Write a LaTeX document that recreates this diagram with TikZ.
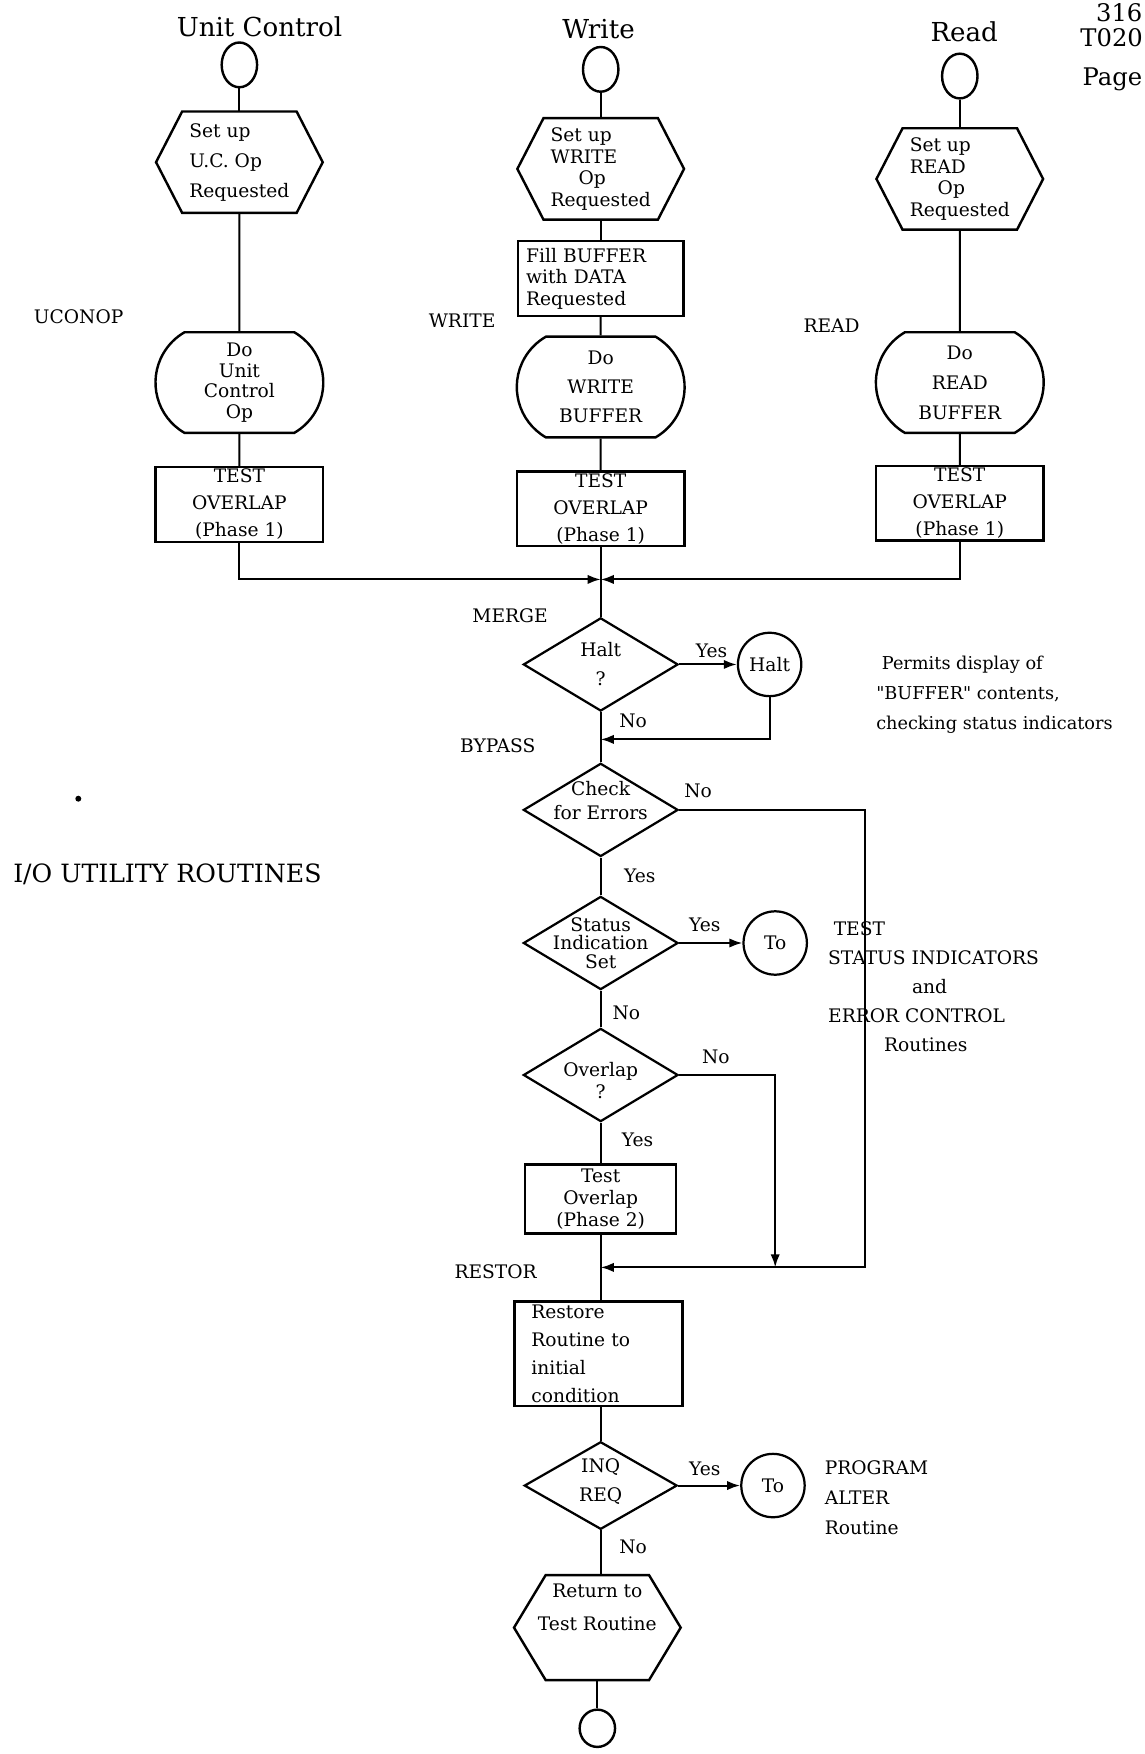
\documentclass[tikz,border=0pt]{standalone}
\usepackage{fontspec}
\setmainfont{DejaVu Serif}
\usepackage{tikz}
\usetikzlibrary{shapes, arrows.meta, positioning, calc}

\begin{document}
\begin{tikzpicture}[x=0.6pt, y=-0.6pt,
  flow/.style={line width=1.1pt},
  arr/.style={line width=1.1pt, -{Latex[length=7pt, width=5pt]}},
  term/.style={draw, ellipse, line width=1.3pt, minimum width=19pt, minimum height=24pt, inner sep=0pt},
  hexbox/.style={minimum width=89pt, minimum height=54pt, inner sep=0pt, align=left},
  procbox/.style={draw, line width=1.3pt, minimum width=90pt, minimum height=40pt, inner sep=0pt, align=center, font=\fontsize{10}{14.5}\selectfont},
  dobox/.style={draw, rounded rectangle, rounded rectangle arc length=120, line width=1.3pt, minimum width=90pt, minimum height=54pt, inner sep=0pt, align=center},
  decision/.style={draw, diamond, line width=1.2pt, minimum width=83pt, minimum height=50pt, inner sep=0pt},
  offpage/.style={draw, circle, line width=1.2pt, minimum size=34pt, inner sep=0pt, font=\fontsize{10}{13}\selectfont},
  tag/.style={font=\fontsize{10}{13}\selectfont, inner sep=0pt},
  answer/.style={font=\fontsize{10}{13}\selectfont, inner sep=0pt},
  heading/.style={font=\fontsize{14}{17}\selectfont},
]
\useasboundingbox (0,0) rectangle (1023,1568);

% page reference
\node[anchor=west, font=\fontsize{13}{16}\selectfont] (pgref) at (974,11) {316};
\node[anchor=west, font=\fontsize{13}{16}\selectfont] (pgser) at (960,34) {T020};
\node[anchor=west, font=\fontsize{13}{16}\selectfont] (pgword) at (962,71) {Page};

% Unit Control
\node[heading] (uctitle) at (232,24) {Unit Control};
\node[term] (ucstart) at (214,58) {};
\node[hexbox, font=\fontsize{10}{16}\selectfont] (ucset) at (214,145) {Set up\\U.C. Op\\Requested};
\node[tag, anchor=west] (uclbl) at (30,283) {UCONOP};
\node[dobox, font=\fontsize{10}{11}\selectfont] (ucdo) at (214,342) {Do\\Unit\\Control\\Op};
\node[procbox] (ucovl) at (214,451) {TEST\\OVERLAP\\(Phase 1)};

% Write
\node[heading] (wrtitle) at (535,26) {Write};
\node[term] (wrstart) at (537,62) {};
\node[hexbox, font=\fontsize{10}{11.5}\selectfont] (wrset) at (537,151) {Set up\\WRITE\\\hspace*{1.5em}Op\\Requested};
\node[procbox, minimum width=89pt, text width=80pt, align=left, font=\fontsize{10}{11.5}\selectfont] (wrfill) at (537,249) {Fill BUFFER\\with DATA\\Requested};
\node[tag, anchor=west] (wrlbl) at (383,287) {WRITE};
\node[dobox, font=\fontsize{10}{15.5}\selectfont] (wrdo) at (537,346) {Do\\WRITE\\BUFFER};
\node[procbox] (wrovl) at (537,455) {TEST\\OVERLAP\\(Phase 1)};

% Read
\node[heading] (rdtitle) at (862,28) {Read};
\node[term] (rdstart) at (858,68) {};
\node[hexbox, font=\fontsize{10}{11.5}\selectfont] (rdset) at (858,160) {Set up\\READ\\\hspace*{1.5em}Op\\Requested};
\node[tag, anchor=west] (rdlbl) at (718,291) {READ};
\node[dobox, font=\fontsize{10}{16}\selectfont] (rddo) at (858,342) {Do\\READ\\BUFFER};
\node[procbox] (rdovl) at (858,450) {TEST\\OVERLAP\\(Phase 1)};

\foreach \h in {ucset, wrset, rdset}
  \draw[line width=1.3pt] ([xshift=14pt]\h.north west) -- ([xshift=-14pt]\h.north east) -- (\h.east)
    -- ([xshift=-14pt]\h.south east) -- ([xshift=14pt]\h.south west) -- (\h.west) -- cycle;

\draw[flow] (ucstart) -- (ucset);
\draw[flow] (ucset) -- (ucdo);
\draw[flow] (ucdo) -- (ucovl);
\draw[flow] (wrstart) -- (wrset);
\draw[flow] (wrset) -- (wrfill);
\draw[flow] (wrfill) -- (wrdo);
\draw[flow] (wrdo) -- (wrovl);
\draw[flow] (rdstart) -- (rdset);
\draw[flow] (rdset) -- (rddo);
\draw[flow] (rddo) -- (rdovl);

% merge
\coordinate (merge) at (537,518);
\draw[arr] (ucovl) |- (merge);
\draw[arr] (rdovl) |- (merge);
\draw[flow] (wrovl) -- (merge);
\node[tag, anchor=west] (mergelbl) at (422,550) {MERGE};

\node[decision, label={[align=center, font=\fontsize{10}{15.5}\selectfont]center:Halt\\?}] (halt) at (537,594) {};
\draw[flow] (merge) -- (halt);
\node[offpage] (haltc) at (688,594) {Halt};
\draw[arr] (halt) -- (haltc);
\node[answer] (yes1) at (636,582) {Yes};
\coordinate (bypass) at (537,661);
\draw[arr] (haltc) |- (bypass);
\node[answer] (no1) at (566,644) {No};
\node[tag, anchor=west] (bypasslbl) at (411,667) {BYPASS};
\node[anchor=west, align=left, inner sep=0pt, font=\fontsize{9.5}{16}\selectfont] (haltnote) at (783,621) {\hspace*{3pt}Permits display of\\\textquotedbl BUFFER\textquotedbl{} contents,\\checking status indicators};

% error checks
\node[decision, label={[align=center, yshift=5pt, font=\fontsize{10}{12.5}\selectfont]center:Check\\for Errors}] (check) at (537,724) {};
\draw[flow] (halt) -- (check);
\coordinate (errline) at (773,1133);
\coordinate (restor) at (537,1133);
\draw[arr] (check) -| (errline) -- (restor);
\node[answer] (no2) at (624,707) {No};
\node[answer] (yes2) at (572,783) {Yes};

\node[decision, label={[align=center, font=\fontsize{10}{10}\selectfont]center:Status\\Indication\\Set}] (status) at (537,843) {};
\draw[flow] (check) -- (status);
\node[offpage] (tostat) at (693,843) {To};
\draw[arr] (status) -- (tostat);
\node[answer] (yes3) at (630,827) {Yes};
\node[answer] (no3) at (560,905) {No};
\node[anchor=west, align=left, inner sep=0pt, font=\fontsize{10}{15.6}\selectfont] (errnote) at (740,882) {\hspace*{3pt}TEST\\STATUS INDICATORS\\\hspace*{45pt}and\\ERROR CONTROL\\\hspace*{30pt}Routines};

\node[decision, label={[align=center, yshift=-3pt, font=\fontsize{10}{11.5}\selectfont]center:Overlap\\?}] (ovl) at (537,961) {};
\draw[flow] (status) -- (ovl);
\coordinate (ovljoin) at (693,1133);
\draw[arr] (ovl) -| (ovljoin);
\node[answer] (no4) at (640,945) {No};
\node[answer] (yes4) at (570,1019) {Yes};
\node[procbox, minimum width=81pt, minimum height=37pt, font=\fontsize{10}{12}\selectfont] (ovl2) at (537,1072) {Test\\Overlap\\(Phase 2)};
\draw[flow] (ovl) -- (ovl2);

% restore
\node[tag, anchor=west] (restorlbl) at (406,1137) {RESTOR};
\node[procbox, minimum height=56pt, text width=72pt, align=left, font=\fontsize{10}{15}\selectfont] (restore) at (535,1210) {Restore\\Routine to\\initial\\condition};
\draw[flow] (ovl2) -- (restore.north -| ovl2);

\node[decision, minimum width=82pt, minimum height=47pt, label={[align=center, yshift=2pt, font=\fontsize{10}{15.5}\selectfont]center:INQ\\REQ}] (inq) at (537,1328) {};
\draw[flow] (restore.south -| inq) -- (inq);
\node[offpage] (toalter) at (691,1328) {To};
\draw[arr] (inq) -- (toalter);
\node[answer] (yes5) at (630,1313) {Yes};
\node[answer] (no5) at (566,1383) {No};
\node[anchor=west, align=left, inner sep=0pt, font=\fontsize{10}{16}\selectfont] (alterlbl) at (737,1339) {PROGRAM\\ALTER\\Routine};

\node[hexbox, minimum width=89pt, minimum height=56pt, label={[align=center, yshift=11pt, font=\fontsize{10}{17.5}\selectfont]center:Return to\\Test Routine}] (back) at (534,1455) {};
\draw[line width=1.3pt] ([xshift=17pt]back.north west) -- ([xshift=-17pt]back.north east) -- (back.east)
  -- ([xshift=-17pt]back.south east) -- ([xshift=17pt]back.south west) -- (back.west) -- cycle;
\draw[flow] (inq) -- (back.north -| inq);
\node[term, minimum height=20pt] (stop) at (534,1545) {};
\draw[flow] (back) -- (stop);

% side title
\node[anchor=west, font=\fontsize{13.5}{18}\selectfont] (iotitle) at (6,782) {I/O UTILITY ROUTINES};
\fill (70,714) circle (1.6pt);
\end{tikzpicture}
\end{document}
